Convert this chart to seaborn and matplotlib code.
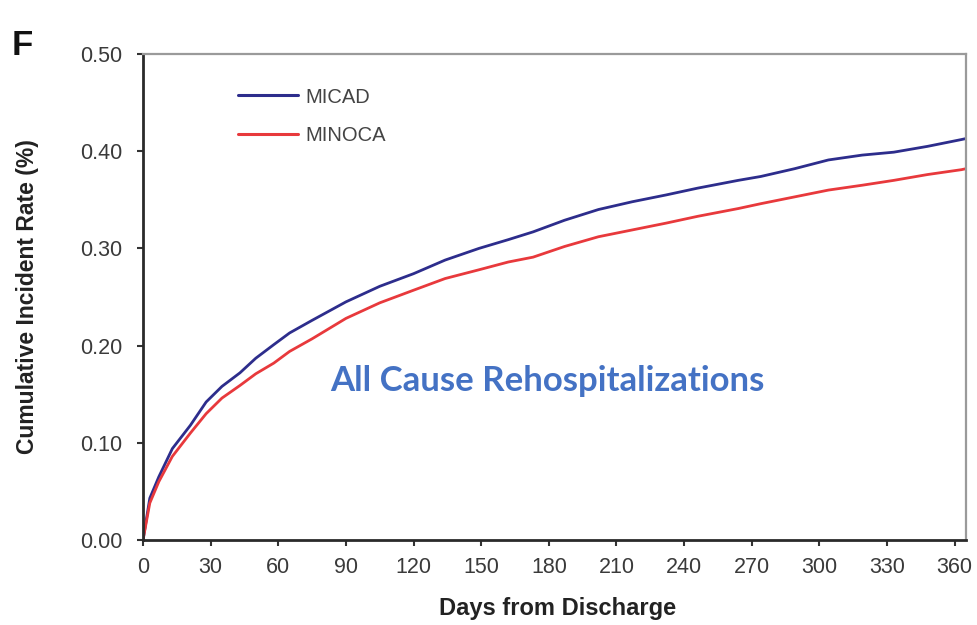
import matplotlib
matplotlib.use("Agg")
import matplotlib.pyplot as plt
import seaborn as sns
import pandas as pd

days = [0, 3, 7, 13, 21, 28, 35, 43, 50, 58, 65, 75, 90, 105, 120, 134, 149, 162,
        173, 187, 202, 217, 232, 246, 264, 274, 289, 304, 319, 333, 348, 363, 365]
micad = [0, 0.043, 0.065, 0.094, 0.118, 0.142, 0.158, 0.172, 0.187, 0.201, 0.213,
         0.226, 0.245, 0.261, 0.274, 0.288, 0.300, 0.309, 0.317, 0.329, 0.340, 0.348,
         0.355, 0.362, 0.370, 0.374, 0.382, 0.391, 0.396, 0.399, 0.405, 0.412, 0.413]
minoca = [0, 0.038, 0.060, 0.086, 0.110, 0.130, 0.146, 0.159, 0.171, 0.182, 0.194,
          0.207, 0.228, 0.244, 0.257, 0.269, 0.278, 0.286, 0.291, 0.302, 0.312, 0.319,
          0.326, 0.333, 0.341, 0.346, 0.353, 0.360, 0.365, 0.370, 0.376, 0.381, 0.382]
series_names = ["MICAD", "MINOCA"]
x_ticks = list(range(0, 361, 30))
y_ticks = [0.0, 0.1, 0.2, 0.3, 0.4, 0.5]
y_ticklabels = ["0.00", "0.10", "0.20", "0.30", "0.40", "0.50"]

df = pd.DataFrame({
    "day": days + days,
    "rate": micad + minoca,
    "group": [series_names[0]] * len(days) + [series_names[1]] * len(days),
})

sns.set_theme(style="white")
plt.rcParams["font.family"] = ["Liberation Sans", "DejaVu Sans"]

fig = plt.figure(figsize=(9.77, 6.25), dpi=100)
ax = fig.add_axes([0.1464, 0.136, 0.8423, 0.7776])

palette = {"MICAD": "#2d2d8c", "MINOCA": "#e8393c"}
sns.lineplot(data=df, x="day", y="rate", hue="group", palette=palette,
             linewidth=2.0, ax=ax, legend=True)

ax.set_xlim(0, 365)
ax.set_ylim(0, 0.5)
ax.set_xticks(x_ticks)
ax.set_xticklabels([str(t) for t in x_ticks])
ax.set_yticks(y_ticks)
ax.set_yticklabels(y_ticklabels)
ax.tick_params(axis="both", which="major", direction="out", length=4, width=1.5,
               colors="#333333", labelsize=15.5, labelcolor="#3a3a3a",
               bottom=True, left=True)
ax.tick_params(axis="x", pad=8)
ax.tick_params(axis="y", pad=11)

for side in ["left", "bottom"]:
    ax.spines[side].set_color("#2a2a2a")
    ax.spines[side].set_linewidth(2.0)
for side in ["top", "right"]:
    ax.spines[side].set_color("#9a9a9a")
    ax.spines[side].set_linewidth(1.6)

ax.set_xlabel("Days from Discharge", fontsize=17, fontweight="bold",
              color="#222222")
ax.set_ylabel("Cumulative Incident Rate (%)", fontsize=16.5, fontweight="bold",
              color="#222222")
ax.xaxis.set_label_coords(0.504, -0.117)
ax.yaxis.set_label_coords(-0.127, 0.5)

handles, labels = ax.get_legend_handles_labels()
leg = ax.legend(handles=handles, labels=labels, loc="upper left",
                bbox_to_anchor=(0.115, 0.931), frameon=False, fontsize=14.5,
                handlelength=3.0, handletextpad=0.35, labelspacing=0.95,
                borderaxespad=0, borderpad=0)
for t in leg.get_texts():
    t.set_color("#444444")
for h in leg.get_lines():
    h.set_linewidth(2.2)

ax.text(0.491, 0.327, "All Cause Rehospitalizations", transform=ax.transAxes,
        ha="center", va="center", fontsize=25, fontweight="bold",
        color="#4472c4", family=["Lato", "DejaVu Sans"])

fig.text(0.012, 0.927, "F", fontsize=25, fontweight="bold", color="#111111",
         ha="left", va="center")

fig.savefig("out.png", dpi=100, facecolor="white")
